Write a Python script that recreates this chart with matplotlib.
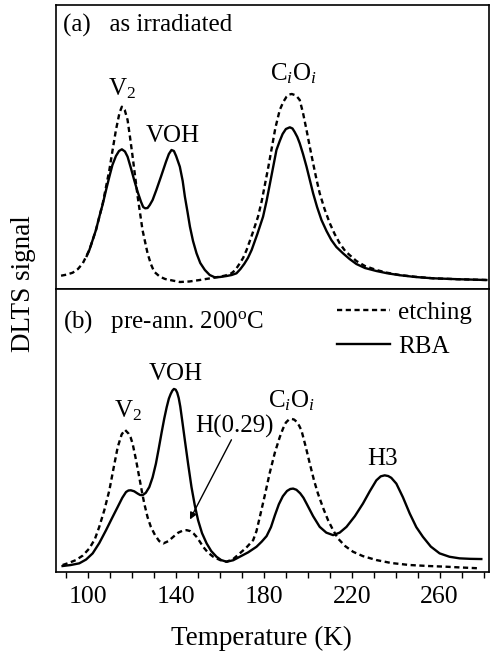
import matplotlib
matplotlib.use("Agg")
import matplotlib.pyplot as plt

plt.rcParams['font.family'] = ['Liberation Serif', 'DejaVu Serif']
plt.rcParams['mathtext.fontset'] = 'custom'
plt.rcParams['mathtext.rm'] = 'Liberation Serif'
plt.rcParams['mathtext.it'] = 'Liberation Serif:italic'

# ---------------- data (T in K, DLTS signal in arb. units) ----------------
# (a) as irradiated
a_etch_T = [87.6, 90.0, 92.9, 95.3, 97.5, 100.5, 103.5, 106.6, 109.6, 111.0, 112.6, 114.2,
            115.3, 116.6, 117.9, 119.0, 120.2, 122.5, 124.7, 127.0, 128.5, 130.0, 132.6,
            135.0, 137.2, 141.7, 146.0, 150.8, 155.0, 159.9, 162.5, 165.2, 167.0, 168.8,
            170.5, 172.1, 174.7, 177.3, 179.0, 180.5, 182.0, 183.4, 185.2, 187.2, 188.8,
            190.3, 191.5, 192.7, 194.0, 195.2, 196.3, 197.8, 199.4, 200.9, 202.4, 203.9,
            205.4, 207.6, 210.0, 212.2, 214.5, 217.0, 219.0, 222.1, 226.0, 231.2, 236.0,
            241.8, 249.0, 257.0, 268.0, 281.3]
a_etch_S = [13.3, 14.3, 16.3, 20.0, 25.7, 39.0, 59.0, 85.7, 119.0, 138.0, 159.0, 176.0,
            182.3, 179.0, 169.0, 152.0, 132.3, 92.3, 59.0, 35.7, 25.0, 17.3, 12.3,
            10.0, 9.0, 7.0, 7.5, 9.0, 10.5, 12.3, 13.5, 15.7, 19.0, 25.0,
            31.0, 39.0, 55.0, 72.3, 88.0, 105.0, 122.0, 139.0, 161.0, 179.0, 187.0,
            192.3, 194.5, 195.0, 194.0, 192.0, 189.0, 176.0, 159.0, 142.0, 125.7, 110.0,
            95.7, 80.0, 65.7, 55.0, 45.7, 38.0, 34.0, 28.0, 23.0, 19.0, 16.3,
            14.0, 12.2, 10.7, 9.8, 9.0]

a_rba_T = [99.3, 100.5, 103.5, 105.0, 106.6, 108.1, 109.6, 111.0, 112.6, 114.0, 115.3, 116.7,
           117.9, 119.4, 120.9, 122.5, 124.0, 125.0, 125.9, 127.0, 128.0, 129.3, 131.0,
           133.1, 135.4, 136.7, 137.9, 139.0, 140.0, 141.7, 143.0, 144.0, 145.2, 146.3,
           147.7, 149.3, 151.0, 153.1, 155.3, 157.6, 160.0, 163.0, 165.3, 167.5, 169.3,
           171.0, 172.7, 174.4, 177.0, 179.6, 181.2, 182.7, 184.2, 185.7, 187.2, 188.5,
           190.0, 191.8, 193.0, 194.0, 195.2, 196.3, 197.8, 199.4, 200.9, 202.4, 204.2,
           206.2, 208.5, 210.7, 213.0, 216.0, 219.0, 222.1, 226.0, 231.2, 236.0, 241.8,
           249.0, 257.0, 268.0, 281.3]
a_rba_S = [33.0, 39.0, 59.0, 72.0, 85.0, 99.0, 112.3, 124.0, 133.0, 138.0, 139.7, 137.5,
           132.3, 121.0, 109.0, 97.0, 87.3, 82.0, 80.7, 81.0, 84.0, 89.0, 99.0,
           112.3, 127.3, 135.0, 139.0, 138.0, 133.0, 122.3, 108.0, 92.3, 77.0, 62.3,
           48.0, 35.7, 26.0, 19.0, 14.0, 11.7, 12.0, 13.0, 14.0, 15.7, 20.0,
           25.0, 31.0, 39.0, 55.0, 72.3, 88.0, 105.0, 122.0, 139.0, 148.0, 155.0,
           160.0, 161.7, 160.5, 157.0, 152.0, 145.7, 135.0, 122.3, 109.0, 95.7, 82.0,
           69.0, 58.0, 49.0, 42.0, 35.7, 30.0, 25.0, 21.0, 18.0, 15.8, 13.8,
           12.0, 10.7, 9.8, 9.0]

# (b) pre-annealed 200 C
b_etch_T = [88.3, 91.0, 94.4, 97.5, 100.5, 103.0, 105.0, 107.3, 109.6, 111.5, 113.4, 115.2,
            116.7, 118.3, 119.3, 120.2, 121.7, 123.2, 124.4, 125.5, 127.0, 128.5, 130.4,
            132.3, 134.2, 136.5, 138.7, 141.0, 143.0, 144.8, 146.5, 148.0, 149.3, 150.8,
            152.3, 154.5, 156.9, 160.0, 163.0, 166.0, 169.0, 172.0, 175.1, 176.6, 178.1,
            180.4, 182.7, 185.0, 187.2, 188.7, 190.0, 191.3, 192.5, 193.7, 194.8, 196.0,
            197.1, 199.0, 200.9, 202.8, 204.6, 207.0, 209.2, 211.5, 213.7, 217.0, 220.6,
            225.0, 231.2, 238.0, 246.4, 255.0, 263.0, 270.0, 278.2]
b_etch_S = [7.0, 9.0, 12.0, 16.5, 23.7, 33.0, 45.3, 62.0, 82.0, 104.0, 125.3, 138.0,
            142.7, 139.0, 135.0, 128.7, 113.0, 95.3, 81.0, 68.7, 55.0, 45.3, 37.0,
            31.0, 28.7, 31.0, 35.3, 39.5, 41.5, 42.0, 41.0, 38.5, 35.3, 30.5,
            25.3, 19.5, 15.3, 12.0, 10.3, 13.0, 18.7, 24.5, 32.0, 41.0, 55.0,
            77.0, 100.0, 120.0, 135.3, 144.0, 150.0, 152.8, 153.7, 153.0, 151.0, 147.0,
            142.0, 126.0, 108.7, 92.0, 78.7, 64.0, 52.0, 42.0, 33.7, 26.0, 20.3,
            16.0, 12.0, 9.0, 7.0, 6.0, 5.3, 4.5, 3.7]

b_rba_T = [88.3, 92.0, 95.9, 99.0, 102.0, 105.0, 108.1, 110.8, 113.4, 115.5, 117.2, 118.3,
           119.4, 120.9, 122.5, 123.6, 124.7, 126.2, 127.8, 129.3, 130.8, 132.1, 133.4,
           134.6, 135.7, 136.7, 137.5, 138.3, 139.0, 139.8, 140.5, 141.2, 141.9, 142.9,
           144.0, 145.5, 147.0, 148.5, 150.0, 151.8, 153.9, 156.0, 158.4, 160.5, 163.0,
           166.0, 169.0, 172.8, 176.6, 179.0, 181.2, 183.2, 185.0, 186.8, 188.6, 190.5,
           192.0, 193.3, 194.8, 196.5, 198.0, 199.4, 202.4, 205.4, 208.4, 211.5, 214.5,
           217.6, 221.4, 225.1, 228.2, 231.2, 233.2, 235.0, 236.6, 238.0, 240.3, 243.3,
           246.4, 249.4, 252.4, 256.0, 260.0, 264.5, 269.1, 274.0, 279.0]
b_rba_S = [6.0, 7.0, 8.7, 12.5, 18.7, 29.0, 42.0, 54.0, 65.3, 74.5, 80.3, 81.8,
           82.0, 81.0, 78.7, 77.3, 77.0, 79.5, 85.3, 95.0, 108.7, 124.0, 140.0,
           154.0, 165.3, 174.0, 178.5, 182.0, 183.7, 183.0, 180.0, 174.5, 166.0, 150.0,
           132.0, 108.0, 85.3, 67.0, 52.0, 39.0, 28.7, 21.0, 15.3, 12.0, 10.3,
           11.8, 15.3, 19.7, 25.3, 30.5, 36.0, 45.0, 57.0, 68.0, 76.0, 81.3,
           83.3, 83.7, 82.5, 79.0, 74.5, 68.7, 56.0, 45.3, 39.5, 37.0, 39.5,
           45.3, 56.0, 68.7, 81.0, 92.0, 96.0, 97.0, 96.3, 94.5, 88.7, 75.0,
           58.7, 45.0, 35.3, 25.5, 18.7, 15.3, 13.7, 13.2, 13.0]

x_ticks = [100, 140, 180, 220, 260]
series_labels = ['etching', 'RBA']

# ---------------- figure ----------------
W, H = 490, 656
fig = plt.figure(figsize=(W / 100, H / 100), dpi=100)
left, right = 56 / W, 489 / W
ax_a = fig.add_axes([left, 1 - 289 / H, right - left, 284 / H])
ax_b = fig.add_axes([left, 1 - 572 / H, right - left, 283 / H], sharex=ax_a)

FS = 18
dash = (0, (2.2, 1.5))
lw = 1.7

ax_a.plot(a_etch_T, a_etch_S, color='black', lw=lw, linestyle=dash)
ax_a.plot(a_rba_T, a_rba_S, color='black', lw=lw)
ax_b.plot(b_etch_T, b_etch_S, color='black', lw=lw, linestyle=dash, label=series_labels[0])
ax_b.plot(b_rba_T, b_rba_S, color='black', lw=lw, label=series_labels[1])

for ax in (ax_a, ax_b):
    ax.set_xlim(85.3, 282.5)
    ax.set_ylim(0, 284)
    ax.set_yticks([])
    ax.set_xticks(x_ticks)
    ax.set_xticks(list(range(90, 290, 10)), minor=True)
    ax.tick_params(axis='x', which='both', direction='out', length=4.5, width=1.0,
                   labelsize=18.5, pad=5.5)
    for s in ax.spines.values():
        s.set_linewidth(1.2)

ax_a.tick_params(axis='x', labelbottom=False)

# panel (a) annotations
ax_a.text(88.3, 264, '(a)   as irradiated', fontsize=FS, ha='left', va='center')
ax_a.text(115.3, 194, r'V$_2$', fontsize=FS, ha='center', va='baseline')
ax_a.text(138.4, 147, 'VOH', fontsize=FS, ha='center', va='baseline')
ax_a.text(193.3, 209, r'C$_{\mathit{i}}$O$_{\mathit{i}}$', fontsize=FS, ha='center', va='baseline')

# panel (b) annotations
ax_b.text(88.3, 245, r'(b)   pre-ann. 200$^{\mathrm{o}}$C', fontsize=FS, ha='left', va='baseline')
ax_b.text(118.2, 155, r'V$_2$', fontsize=FS, ha='center', va='baseline')
ax_b.text(139.8, 193, 'VOH', fontsize=FS, ha='center', va='baseline')
ax_b.text(166.7, 140, 'H(0.29)', fontsize=FS, ha='center', va='baseline')
ax_b.text(192.5, 165, r'C$_{\mathit{i}}$O$_{\mathit{i}}$', fontsize=FS, ha='center', va='baseline')
ax_b.text(234.2, 107, 'H3', fontsize=FS, ha='center', va='baseline')
ax_b.annotate('', xy=(146.3, 52.7), xytext=(165.2, 132.7),
              arrowprops=dict(arrowstyle='-|>', color='black', lw=1.0,
                              mutation_scale=10, shrinkA=0, shrinkB=0))

leg = ax_b.legend(loc='upper left', bbox_to_anchor=((337 - 56) / 433, 0.955), frameon=False,
                  fontsize=FS, handlelength=2.1, handletextpad=0.35, labelspacing=0.45,
                  borderaxespad=0.0, borderpad=0.0)

ax_b.set_xlabel('Temperature (K)', fontsize=19.5)
ax_b.xaxis.set_label_coords((261 - 56) / 433, -0.19)
ax_b.xaxis.label.set_va('top')

fig.text(24 / W, 1 - 284 / H, 'DLTS signal', fontsize=19.5, rotation=90,
         ha='center', va='center')

fig.savefig('out.png', dpi=100)
